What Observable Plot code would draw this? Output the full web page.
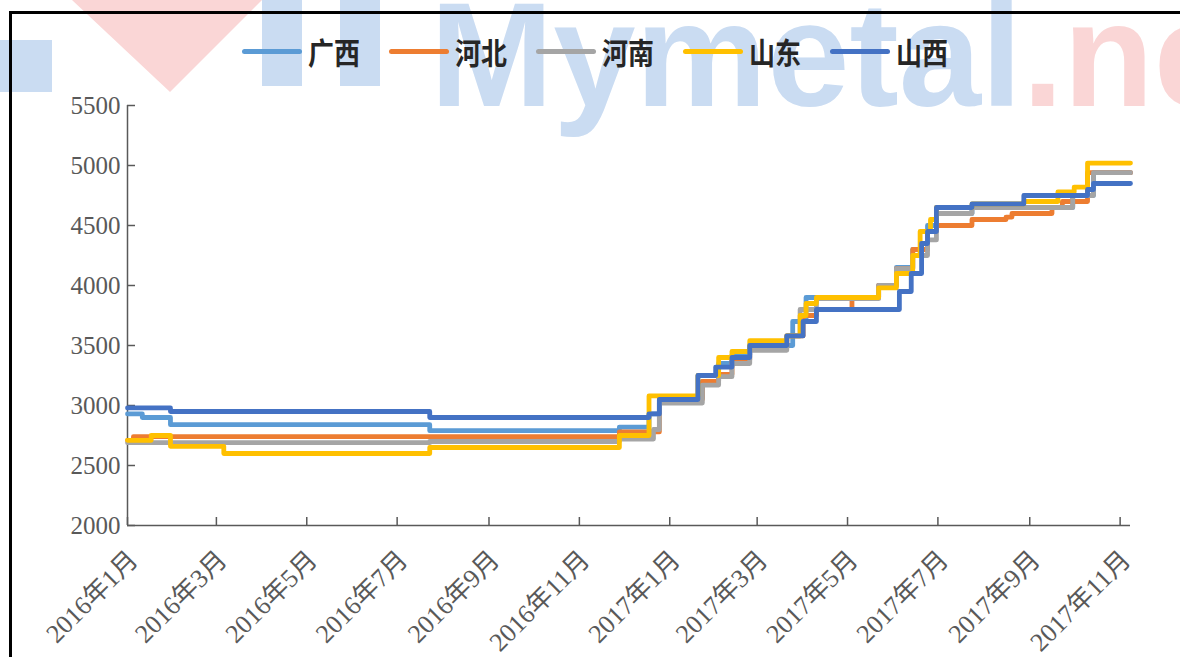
<!DOCTYPE html>
<html>
<head>
<meta charset="utf-8">
<script src="https://cdn.jsdelivr.net/npm/d3@7"></script>
<script src="https://cdn.jsdelivr.net/npm/@observablehq/plot@0.6"></script>
<style>
html,body{margin:0;padding:0;background:#fff;}
#wrap{position:relative;width:1180px;height:657px;overflow:hidden;background:#fff;}
#wm{position:absolute;left:0;top:0;z-index:0;}
#chart{position:absolute;left:0;top:0;z-index:1;}
#frame{position:absolute;left:9px;top:11px;width:1200px;height:700px;border-left:3px solid #000;border-top:3px solid #000;z-index:3;pointer-events:none;}
#legend{position:absolute;left:242px;top:36px;height:30px;display:flex;align-items:center;z-index:2;}
.item{display:flex;align-items:center;margin-right:29px;}
.sw{width:60px;height:5px;border-radius:3px;margin-right:6px;}
.lab{font-family:"Noto Sans CJK SC","Noto Sans",sans-serif;font-weight:700;font-size:26px;color:#262626;display:inline-block;transform:scale(1,1.15);line-height:30px;}
</style>
</head>
<body>
<div id="wrap">
  <svg id="wm" width="1180" height="657">
    <rect x="0" y="40" width="52" height="52" fill="#cadcf2"/>
    <polygon points="72,0 262,0 170,92" fill="#fad6d6"/>
    <rect x="262" y="0" width="40" height="86" fill="#cadcf2"/>
    <rect x="340" y="0" width="40" height="86" fill="#cadcf2"/>
    <text x="430" y="106" font-family="Liberation Sans, Arial, sans-serif" font-weight="700" font-size="148" fill="#cadcf2">Mymetal<tspan fill="#fad6d6">.ne</tspan></text>
  </svg>
  <div id="chart"></div>
  <div id="legend"></div>
  <div id="frame"></div>
</div>
<script>
// ---- data ----
const provinces = ["广西", "河北", "河南", "山东", "山西"];
const colors = ["#5B9BD5", "#ED7D31", "#A5A5A5", "#FFC000", "#4472C4"];

const guangxi = [
  ["2016-01-01", 2930], ["2016-01-11", 2900], ["2016-01-30", 2840], ["2016-07-23", 2790],
  ["2016-11-28", 2820], ["2016-12-18", 2930], ["2016-12-25", 3060], ["2017-01-23", 3200],
  ["2017-02-03", 3350], ["2017-02-12", 3420], ["2017-02-24", 3500], ["2017-03-25", 3700],
  ["2017-04-03", 3900], ["2017-05-22", 4000], ["2017-06-03", 4150], ["2017-06-14", 4300],
  ["2017-06-24", 4500], ["2017-06-30", 4600], ["2017-07-24", 4650], ["2017-09-30", 4750],
  ["2017-10-14", 4940], ["2017-11-08", 4940]
];
const hebei = [
  ["2016-01-01", 2710], ["2016-01-05", 2740], ["2016-11-28", 2780], ["2016-12-25", 3050],
  ["2017-01-23", 3200], ["2017-02-03", 3260], ["2017-02-12", 3380], ["2017-02-24", 3480],
  ["2017-03-21", 3580], ["2017-04-01", 3750], ["2017-04-10", 3800], ["2017-05-04", 3900],
  ["2017-05-22", 4000], ["2017-06-03", 4140], ["2017-06-14", 4300], ["2017-06-24", 4450],
  ["2017-06-30", 4500], ["2017-07-24", 4550], ["2017-08-16", 4570], ["2017-08-20", 4600],
  ["2017-09-16", 4650], ["2017-09-23", 4700], ["2017-10-10", 4940], ["2017-11-08", 4940]
];
const henan = [
  ["2016-01-01", 2690], ["2016-07-23", 2700], ["2016-11-28", 2720], ["2016-12-21", 2800],
  ["2016-12-25", 3020], ["2017-01-23", 3170], ["2017-02-03", 3240], ["2017-02-12", 3350],
  ["2017-02-24", 3460], ["2017-03-21", 3580], ["2017-03-30", 3800], ["2017-04-10", 3890],
  ["2017-05-22", 4000], ["2017-06-03", 4140], ["2017-06-14", 4250], ["2017-06-24", 4380],
  ["2017-06-30", 4600], ["2017-07-24", 4650], ["2017-09-30", 4750], ["2017-10-14", 4940],
  ["2017-11-08", 4940]
];
const shandong = [
  ["2016-01-01", 2710], ["2016-01-17", 2750], ["2016-01-30", 2660], ["2016-03-06", 2600],
  ["2016-07-23", 2650], ["2016-11-28", 2750], ["2016-12-18", 3080], ["2017-01-20", 3250],
  ["2017-02-03", 3400], ["2017-02-12", 3450], ["2017-02-24", 3540], ["2017-03-21", 3580],
  ["2017-03-30", 3750], ["2017-04-03", 3850], ["2017-04-10", 3900], ["2017-05-22", 3980],
  ["2017-06-03", 4100], ["2017-06-14", 4250], ["2017-06-19", 4450], ["2017-06-26", 4550],
  ["2017-06-30", 4650], ["2017-07-24", 4680], ["2017-08-28", 4700], ["2017-09-20", 4780],
  ["2017-10-01", 4820], ["2017-10-10", 5020], ["2017-11-08", 5020]
];
const shanxi = [
  ["2016-01-01", 2980], ["2016-01-30", 2950], ["2016-07-23", 2900], ["2016-12-18", 2930],
  ["2016-12-25", 3050], ["2017-01-20", 3250], ["2017-02-01", 3320], ["2017-02-12", 3400],
  ["2017-02-24", 3500], ["2017-03-21", 3580], ["2017-04-01", 3700], ["2017-04-10", 3800],
  ["2017-06-05", 3950], ["2017-06-13", 4100], ["2017-06-20", 4350], ["2017-06-24", 4450],
  ["2017-06-30", 4650], ["2017-07-24", 4680], ["2017-08-28", 4750], ["2017-10-10", 4800],
  ["2017-10-14", 4850], ["2017-11-08", 4850]
];
const seriesList = [guangxi, hebei, henan, shandong, shanxi];

const yTicks = [2000, 2500, 3000, 3500, 4000, 4500, 5000, 5500];
const xStart = "2016-01-01", xEnd = "2017-11-08";
const xTickStarts = ["2016-01-01","2016-03-01","2016-05-01","2016-07-01","2016-09-01","2016-11-01",
                     "2017-01-01","2017-03-01","2017-05-01","2017-07-01","2017-09-01","2017-11-01"];

// ---- build ----
const rows = seriesList.map((s, i) => s.map(([d, v]) => ({date: new Date(d), value: v, name: provinces[i]})));
const xTicks = xTickStarts.map(d => new Date(d));
const fmtX = d => `${d.getUTCFullYear()}年${d.getUTCMonth() + 1}月`;
const axisColor = "#595959";
const tickFont = '"Liberation Serif","Noto Sans CJK SC",serif';

const chart = Plot.plot({
  width: 1180,
  height: 657,
  marginTop: 105,
  marginLeft: 127,
  marginRight: 50,
  marginBottom: 132,
  style: {background: "transparent", overflow: "visible"},
  x: {type: "utc", domain: [new Date(xStart), new Date(xEnd)]},
  y: {domain: [2000, 5500]},
  marks: [
    Plot.ruleY([2000], {stroke: axisColor, strokeWidth: 1.5}),
    Plot.ruleX([new Date(xStart)], {y1: 2000, y2: 5500, stroke: axisColor, strokeWidth: 1.5}),
    Plot.axisY({ticks: yTicks, tickFormat: d3.format("d"), tickSize: -8, tickPadding: 15,
      stroke: axisColor, strokeWidth: 1.5, fill: axisColor, fontSize: 25, fontFamily: tickFont, label: null}),
    // tick marks only
    Plot.axisX({ticks: xTicks, tickFormat: () => "", tickSize: -8, tickPadding: 0,
      stroke: axisColor, strokeWidth: 1.5, label: null}),
    // rotated labels only
    Plot.axisX({ticks: xTicks, tickFormat: fmtX, tickSize: 0, tickPadding: 30, dx: 6, tickRotate: -45,
      fill: axisColor, fontSize: 26, fontFamily: tickFont, label: null}),
    ...rows.map((r, i) => Plot.line(r, {x: "date", y: "value", curve: "step-after",
      stroke: colors[i], strokeWidth: 4.8, strokeLinejoin: "round", strokeLinecap: "round"}))
  ]
});
document.getElementById("chart").appendChild(chart);

const legend = document.getElementById("legend");
provinces.forEach((p, i) => {
  const it = document.createElement("div");
  it.className = "item";
  it.innerHTML = `<span class="sw" style="background:${colors[i]}"></span><span class="lab">${p}</span>`;
  legend.appendChild(it);
});
</script>
</body>
</html>
